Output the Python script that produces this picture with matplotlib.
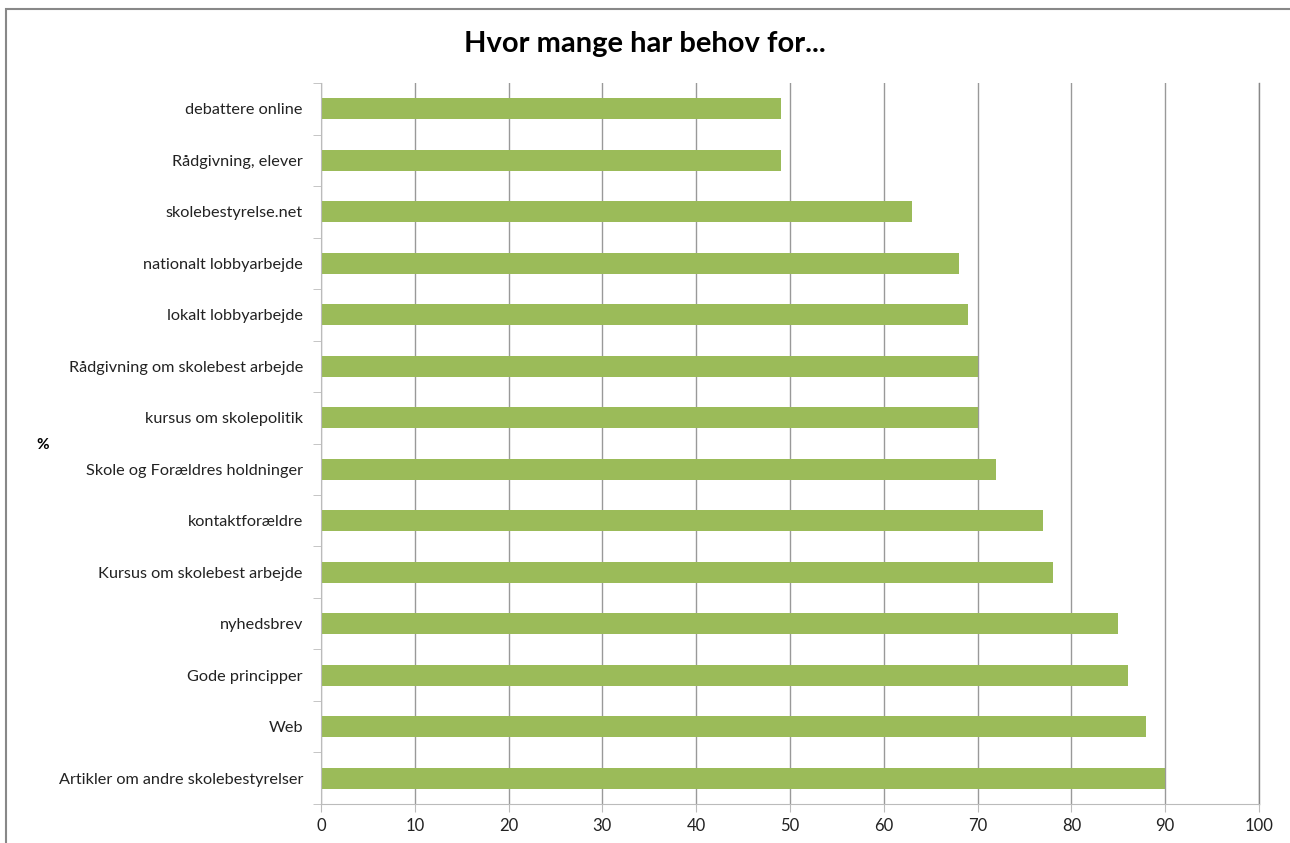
import matplotlib.pyplot as plt
from matplotlib.patches import Rectangle

plt.rcParams['font.family'] = ['Lato', 'DejaVu Sans']

# categories listed bottom to top, as Excel draws them
labels = ['Artikler om andre skolebestyrelser', 'Web', 'Gode principper', 'nyhedsbrev',
          'Kursus om skolebest arbejde', 'kontaktforældre', 'Skole og Forældres holdninger',
          'kursus om skolepolitik', 'Rådgivning om skolebest arbejde', 'lokalt lobbyarbejde',
          'nationalt lobbyarbejde', 'skolebestyrelse.net', 'Rådgivning, elever', 'debattere online']
values = [90, 88, 86, 85, 78, 77, 72, 70, 70, 69, 68, 63, 49, 49]
xticks = [0, 10, 20, 30, 40, 50, 60, 70, 80, 90, 100]

fig = plt.figure(figsize=(12.9, 8.43), dpi=100)
ax = fig.add_axes([0.2488, 0.0463, 0.7272, 0.8552])

ypos = list(range(len(labels)))
ax.barh(ypos, values, height=0.4, color='#9bbb59', zorder=3)

ax.set_xlim(0, 100)
ax.set_ylim(-0.5, len(labels) - 0.5)
ax.set_xticks(xticks)
ax.set_xticklabels([str(t) for t in xticks], fontsize=12, color='#222222')
ax.set_yticks(ypos)
ax.set_yticklabels(labels, fontsize=11.7, color='#222222')
ax.tick_params(axis='y', length=0, pad=13)
ax.tick_params(axis='x', length=6, color='#bbbbbb', pad=4)
ax.set_yticks([y - 0.5 for y in range(len(labels) + 1)], minor=True)
ax.tick_params(axis='y', which='minor', length=6, color='#bbbbbb')

ax.grid(axis='x', color='#999999', linewidth=1, zorder=0)
ax.axvline(100, color='#888888', linewidth=1, zorder=0, clip_on=False)
for s in ['top', 'right']:
    ax.spines[s].set_visible(False)
ax.spines['left'].set_color('#bbbbbb')
ax.spines['bottom'].set_color('#bbbbbb')
ax.spines['left'].set_zorder(4)

fig.text(0.5, 0.948, 'Hvor mange har behov for...', ha='center', va='center',
         fontsize=21, fontweight='bold')
fig.text(0.033, 0.472, '%', ha='center', va='center', fontsize=11, fontweight='bold')

fig.patches.append(Rectangle((6 / 1290, -0.01), 1.02, (843 - 9) / 843 + 0.01,
                             transform=fig.transFigure, fill=False,
                             edgecolor='#888888', linewidth=1.5))

fig.savefig('out.png', dpi=100)
